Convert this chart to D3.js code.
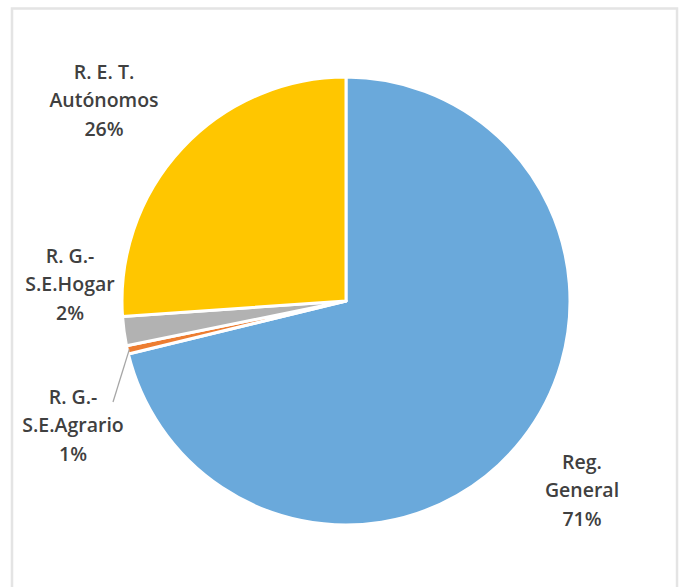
<!DOCTYPE html>
<html>
<head>
<meta charset="utf-8">
<script src="https://cdn.jsdelivr.net/npm/d3@7"></script>
<style>
  body { margin: 0; background: #fff; }
  svg text { font-family: "Open Sans", "Noto Sans", sans-serif; fill: #404040; }
</style>
</head>
<body>
<div id="chart"></div>
<script>
// data (share of each regime)
var categories = ["Reg. General", "R. G.- S.E.Agrario", "R. G.- S.E.Hogar", "R. E. T. Autónomos"];
var values = [71.2, 0.6, 2.1, 26.1];
var pctLabels = ["71%", "1%", "2%", "26%"];
var labelLines = [["Reg.", "General"], ["R. G.-", "S.E.Agrario"], ["R. G.-", "S.E.Hogar"], ["R. E. T.", "Autónomos"]];
var colors = ["#6aa9db", "#ed7d31", "#b2b2b2", "#ffc600"];

var width = 682, height = 587;
var cx = 346, cy = 301, radius = 224;

// where each label block is centred (x, y of first line)
var labelPos = [[582, 462], [73, 397], [70, 256], [104, 72]];
var lineGap = 28.5;

var svg = d3.select("#chart").append("svg")
      .attr("width", width)
      .attr("height", height);

// chart frame
svg.append("rect")
      .attr("x", 12)
      .attr("y", 8.5)
      .attr("width", 665)
      .attr("height", 600)
      .attr("fill", "none")
      .attr("stroke", "#e4e4e4")
      .attr("stroke-width", 2.5);

var data = categories.map(function (c, i) {
      return { name: c, value: values[i], pct: pctLabels[i], lines: labelLines[i], color: colors[i], pos: labelPos[i] };
});

var pie = d3.pie()
      .sort(null)
      .value(function (d) { return d.value; });

var arc = d3.arc()
      .innerRadius(0)
      .outerRadius(radius);

var g = svg.append("g")
      .attr("transform", "translate(" + cx + "," + cy + ")");

var arcs = pie(data);

g.selectAll("path")
      .data(arcs)
      .enter().append("path")
      .attr("d", arc)
      .attr("fill", function (d) { return d.data.color; })
      .attr("stroke", "#fff")
      .attr("stroke-width", 3)
      .attr("stroke-linejoin", "round");

// leader line for the thin Agrario slice
var agr = arcs[1];
var mid = (agr.startAngle + agr.endAngle) / 2;
var p0 = [Math.sin(mid) * (radius - 2), -Math.cos(mid) * (radius - 2)];
g.append("line")
      .attr("x1", p0[0])
      .attr("y1", p0[1])
      .attr("x2", 113 - cx)
      .attr("y2", 402 - cy)
      .attr("stroke", "#a6a6a6")
      .attr("stroke-width", 1.3);

// labels
var labels = svg.selectAll(".lbl")
      .data(data)
      .enter().append("text")
      .attr("class", "lbl")
      .attr("text-anchor", "middle")
      .style("font-size", "19.5px")
      .style("font-weight", 600);

labels.each(function (d) {
      var t = d3.select(this);
      var rows = d.lines.concat([d.pct]);
      rows.forEach(function (r, i) {
            t.append("tspan")
                  .attr("x", d.pos[0])
                  .attr("y", d.pos[1] + i * lineGap)
                  .attr("dy", "0.35em")
                  .text(r);
      });
});
</script>
</body>
</html>
